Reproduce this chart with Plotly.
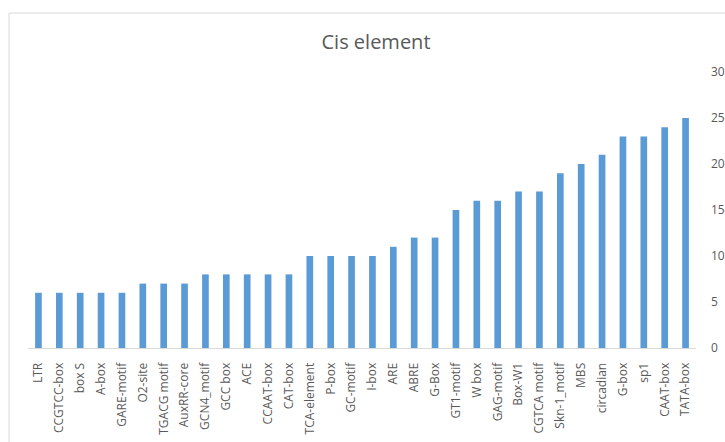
import plotly.graph_objects as go

# Cis-acting element counts
elements = [
    "LTR", "CCGTCC-box", "box S", "A-box", "GARE-motif", "O2-site",
    "TGACG motif", "AuxRR-core", "GCN4_motif", "GCC box", "ACE",
    "CCAAT-box", "CAT-box", "TCA-element", "P-box", "GC-motif", "I-box",
    "ARE", "ABRE", "G-Box", "GT1-motif", "W box", "GAG-motif", "Box-W1",
    "CGTCA motif", "Skn-1_motif", "MBS", "circadian", "G-box", "sp1",
    "CAAT-box", "TATA-box",
]
counts = [
    6, 6, 6, 6, 6, 7,
    7, 7, 8, 8, 8,
    8, 8, 10, 10, 10, 10,
    11, 12, 12, 15, 16, 16, 17,
    17, 19, 20, 21, 23, 23,
    24, 25,
]
y_ticks = [0, 5, 10, 15, 20, 25, 30]

GRAY_TEXT = "#595959"
FONT = "Open Sans"

fig = go.Figure(
    go.Bar(
        x=elements,
        y=counts,
        marker=dict(color="#5B9BD5", line=dict(width=0)),
    )
)

fig.update_layout(
    width=725,
    height=442,
    margin=dict(l=28, r=29, t=72, b=94),
    paper_bgcolor="white",
    plot_bgcolor="white",
    bargap=0.68,
    showlegend=False,
    font=dict(family=FONT, color=GRAY_TEXT),
    title=dict(
        text="Cis element",
        x=376 / 725,
        xanchor="center",
        y=1 - 42 / 442,
        yanchor="middle",
        font=dict(size=20, color=GRAY_TEXT, family=FONT),
    ),
    xaxis=dict(
        type="category",
        tickangle=-90,
        tickfont=dict(size=12, color=GRAY_TEXT),
        showline=True,
        linecolor="#d9d9d9",
        linewidth=1,
        showgrid=False,
        ticks="",
        ticklabelstandoff=9,
        automargin=False,
        fixedrange=True,
    ),
    yaxis=dict(
        side="right",
        range=[0, 30],
        tickvals=y_ticks,
        tickfont=dict(size=12, color=GRAY_TEXT),
        showgrid=False,
        zeroline=False,
        showline=False,
        ticks="",
        ticklabelstandoff=14,
        automargin=False,
        fixedrange=True,
    ),
    shapes=[
        # chart area border
        dict(
            type="rect",
            xref="paper",
            yref="paper",
            x0=(9 - 28) / 668,
            x1=1.2,
            y0=-0.5,
            y1=(348 - 13) / 276,
            line=dict(color="#d9d9d9", width=1),
            fillcolor="rgba(0,0,0,0)",
            layer="below",
        )
    ],
)

fig.write_html("out.html")
